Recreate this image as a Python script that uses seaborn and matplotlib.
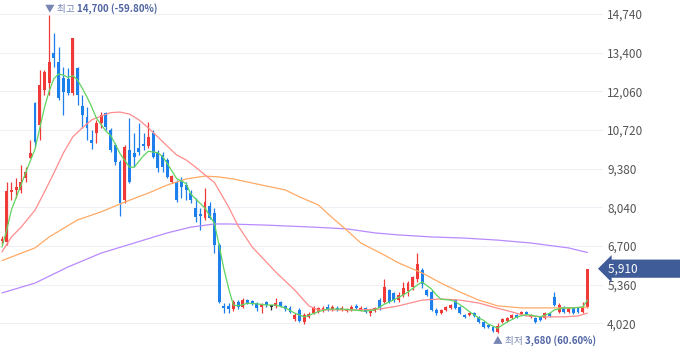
import numpy as np
import pandas as pd
import seaborn as sns
import matplotlib.pyplot as plt

# daily candles (KRW)
opens = [6870, 6840, 8570, 8640, 8640, 9050, 9750, 11650, 10890, 12100,
         12350, 13390, 13080, 12520, 12490, 12000, 12870, 11550, 11170, 10370,
         10610, 10960, 11310, 10720, 10200, 9610, 8290, 10030, 9920, 10090,
         10230, 10160, 10610, 9920, 9850, 9680, 8920, 8920, 8980, 8810,
         8530, 8010, 7810, 7670, 8080, 7840, 6730, 4620, 4620, 4510,
         4760, 4580, 4820, 4790, 4720, 4580, 4760, 4580, 4620, 4760,
         4620, 4550, 4170, 4480, 4060, 4240, 4370, 4410, 4440, 4580,
         4480, 4550, 4480, 4440, 4480, 4620, 4480, 4550, 4370, 4440,
         4820, 4760, 5170, 5070, 4820, 5000, 5140, 5280, 5550, 5860,
         5170, 5100, 4480, 4370, 4480, 4550, 4820, 4580, 4300, 4300,
         4370, 4240, 4060, 3960, 3890, 3720, 4060, 4100, 4200, 4300,
         4340, 4410, 4240, 4200, 4240, 4200, 4370, 4930, 4410, 4580,
         4410, 4550, 4550, 4410, 4580]
highs = [7040, 8920, 8920, 9050, 9500, 9440, 10370, 11690, 12800, 12800,
         14700, 14080, 13600, 12900, 12870, 13910, 12900, 11930, 11520, 10720,
         11070, 11340, 11340, 10790, 10270, 9680, 10200, 11130, 10610, 10960,
         10610, 11000, 10720, 10030, 9960, 9750, 9160, 8980, 9090, 8920,
         8640, 8360, 8010, 8710, 8220, 8010, 6800, 4720, 4720, 4820,
         4820, 4890, 4860, 4820, 4760, 4720, 4790, 4620, 4890, 4790,
         4650, 4620, 4370, 4550, 4370, 4410, 4620, 4580, 4620, 4690,
         4650, 4620, 4620, 4550, 4650, 4690, 4620, 4580, 4480, 4580,
         4890, 5550, 5210, 5100, 5100, 5450, 5480, 5660, 6450, 5930,
         5210, 5170, 4550, 4510, 4620, 4690, 4860, 4620, 4340, 4410,
         4410, 4270, 4100, 3990, 3920, 4030, 4200, 4240, 4340, 4340,
         4440, 4440, 4340, 4240, 4270, 4410, 4410, 5100, 4720, 4620,
         4580, 4580, 4580, 4760, 5910]
lows = [6770, 6730, 8290, 8360, 8530, 8920, 9750, 10130, 10370, 11930,
        11930, 12900, 11760, 11240, 11930, 11930, 11590, 10790, 10370, 10060,
        10270, 10790, 10720, 9960, 9500, 7740, 8190, 8880, 9440, 9850,
        10030, 10090, 9750, 9260, 9260, 9050, 8880, 8220, 8360, 8290,
        8190, 7530, 7250, 7600, 7630, 6450, 4720, 4370, 4370, 4440,
        4510, 4550, 4690, 4650, 4440, 4370, 4580, 4480, 4550, 4580,
        4440, 4370, 4100, 4060, 3990, 4200, 4340, 4370, 4410, 4440,
        4440, 4440, 4440, 4410, 4440, 4510, 4440, 4370, 4270, 4410,
        4480, 4720, 4720, 4760, 4760, 4930, 4960, 5170, 5450, 5240,
        4960, 4440, 4300, 4340, 4440, 4510, 4510, 4340, 4200, 4270,
        4240, 4030, 3850, 3850, 3720, 3680, 4030, 4060, 4170, 4200,
        4300, 4300, 4200, 4030, 4100, 4170, 4240, 4620, 4370, 4370,
        4370, 4340, 4370, 4370, 4550]
closes = [6940, 8600, 8640, 8740, 8920, 9260, 9920, 10300, 12280, 12730,
          13080, 13210, 11830, 12040, 12000, 13910, 11930, 11240, 10790, 10270,
          10960, 11240, 10820, 10030, 9610, 8190, 10130, 8920, 9780, 9960,
          10160, 10480, 9780, 9400, 9440, 9090, 9120, 8290, 8740, 8640,
          8290, 7700, 7740, 8220, 7670, 6730, 4760, 4550, 4510, 4760,
          4580, 4820, 4720, 4720, 4550, 4650, 4650, 4580, 4720, 4620,
          4510, 4410, 4300, 4100, 4300, 4340, 4550, 4550, 4550, 4480,
          4580, 4480, 4550, 4510, 4580, 4550, 4550, 4410, 4440, 4550,
          4550, 5280, 4760, 4820, 5000, 5240, 5410, 5620, 6070, 5380,
          5000, 4480, 4370, 4480, 4580, 4650, 4550, 4370, 4240, 4370,
          4270, 4060, 3890, 3890, 3740, 3920, 4170, 4200, 4300, 4240,
          4410, 4340, 4300, 4060, 4130, 4370, 4270, 4650, 4650, 4410,
          4550, 4370, 4410, 4550, 5910]

# moving averages (candle index, value)
ma5_idx = [0, 1, 2, 4, 5, 7, 8, 9, 10, 11, 12, 13, 14, 15, 16, 17, 18, 19, 20, 22,
           23, 24, 25, 27, 28, 30, 31, 33, 34, 35, 37, 38, 39, 40, 41, 43, 45, 46, 47, 48,
           49, 50, 52, 54, 56, 58, 60, 62, 64, 65, 67, 69, 72, 74, 77, 79, 81, 83, 85, 86,
           88, 89, 91, 92, 93, 95, 96, 98, 99, 101, 102, 103, 105, 107, 109, 111, 112, 114,
           116, 117, 119, 121, 123, 124]
ma5_val = [6660, 7250, 7950, 8800, 9230, 10060, 10780, 11500, 12070, 12500,
           12660, 12620, 12540, 12600, 12450, 12170, 11860, 11520, 11130, 10680,
           10530, 10230, 9900, 9430, 9430, 9830, 9980, 9930, 9800, 9560,
           9030, 8950, 8860, 8500, 8330, 8010, 7480, 6710, 5900, 5230,
           4650, 4620, 4710, 4690, 4650, 4650, 4550, 4370, 4240, 4290,
           4420, 4510, 4510, 4480, 4440, 4480, 4680, 4830, 5000, 5100,
           5350, 5450, 5200, 5000, 4850, 4820, 4770, 4550, 4420, 4200,
           4120, 3990, 3850, 4060, 4230, 4320, 4300, 4240, 4360, 4480,
           4550, 4550, 4580, 4820]
ma20_idx = [0, 2, 4, 7, 9, 11, 13, 15, 17, 19, 21, 23, 25, 27, 29, 31, 33, 35, 37, 39,
            41, 43, 45, 48, 50, 53, 56, 58, 62, 65, 67, 72, 76, 80, 84, 89, 93, 97, 101, 104,
            108, 111, 115, 119, 122, 124]
ma20_val = [6490, 7010, 7340, 7940, 8570, 9230, 9920, 10480, 10790, 11070,
            11200, 11320, 11340, 11270, 11070, 10790, 10480, 10160, 9850, 9680,
            9430, 9160, 8900, 8050, 7400, 6660, 6140, 5790, 5170, 4620,
            4480, 4480, 4480, 4510, 4620, 4820, 4860, 4820, 4720, 4580,
            4410, 4270, 4240, 4240, 4270, 4370]
ma60_idx = [0, 7, 10, 16, 21, 26, 31, 35, 39, 43, 46, 49, 55, 60, 63, 67, 70, 73, 76, 81,
            84, 89, 93, 97, 101, 105, 110, 114, 120, 124]
ma60_val = [6190, 6630, 7010, 7600, 7880, 8220, 8530, 8810, 9020, 9120,
            9090, 9020, 8810, 8640, 8400, 8120, 7670, 7250, 6800, 6380,
            6110, 5760, 5410, 5100, 4820, 4620, 4550, 4550, 4550, 4580]
ma120_idx = [0, 7, 14, 21, 28, 35, 40, 45, 48, 56, 66, 73, 79, 84, 91, 98, 105, 112, 120, 124]
ma120_val = [5070, 5410, 5970, 6450, 6800, 7150, 7350, 7460, 7460, 7420,
             7350, 7290, 7150, 7080, 7010, 6970, 6900, 6800, 6630, 6470]

y_ticks = [4020, 5360, 6700, 8040, 9380, 10720, 12060, 13400, 14740]
high_text = ('▼ 최고 ', '14,700 (-59.80%)')
low_text = ('▲ 최저 ', '3,680 (60.60%)')
last_price = 5910

RED = '#f03a3a'
BLUE = '#1c7fec'

sns.set_style('white')
plt.rcParams['font.family'] = ['Noto Sans CJK KR', 'DejaVu Sans']

df = pd.DataFrame({'open': opens, 'high': highs, 'low': lows, 'close': closes})
df['idx'] = np.arange(len(df))
df['color'] = np.where(df['close'] > df['open'], RED,
                       np.where(df['close'] < df['open'], BLUE, '#333333'))

fig = plt.figure(figsize=(6.8, 3.58), dpi=100)
ax = fig.add_axes([0, 0, 603 / 680, 1])

for t in y_ticks:
    ax.axhline(t, color='#eef0f6', lw=0.8, zorder=0)

ax.vlines(df['idx'], df['low'], df['high'], colors=df['color'], lw=0.9, zorder=2)
body_lo = df[['open', 'close']].min(axis=1)
body_h = (df['close'] - df['open']).abs().clip(lower=55)
ax.bar(df['idx'], body_h, bottom=body_lo, width=0.62, color=df['color'], lw=0, zorder=2)

ma_sets = [(ma120_idx, ma120_val, '#b98aff'), (ma60_idx, ma60_val, '#ffaa66'),
           (ma20_idx, ma20_val, '#ff8c8c'), (ma5_idx, ma5_val, '#5fd45f')]
for xi, yv, c in ma_sets:
    sns.lineplot(x=xi, y=yv, color=c, lw=0.9, ax=ax, zorder=3)

ax.set_xlim(-0.42, 127.3)
ax.set_ylim(2813, 15225)
ax.set_yticks(y_ticks)
ax.set_yticklabels([f'{v:,}' for v in y_ticks])
ax.yaxis.tick_right()
ax.tick_params(axis='y', length=0, pad=3, labelsize=8.5, labelcolor='#555555')
ax.set_xticks([])
for s in ax.spines.values():
    s.set_visible(False)

# high / low markers
ih = int(np.argmax(highs))
il = int(np.argmin(lows))
t1 = ax.annotate(high_text[0], xy=(ih, highs[ih]), xytext=(-4, 1), textcoords='offset pixels',
                 ha='left', va='bottom', fontsize=7, color='#7684b4', annotation_clip=False)
ax.annotate(high_text[1], xy=(1, 0), xycoords=t1, ha='left', va='bottom',
            fontsize=7, color='#4f65a3', fontweight='bold')
t2 = ax.annotate(low_text[0], xy=(il, lows[il]), xytext=(-5, -3), textcoords='offset pixels',
                 ha='left', va='top', fontsize=7, color='#7684b4', annotation_clip=False)
ax.annotate(low_text[1], xy=(1, 0), xycoords=t2, ha='left', va='bottom',
            fontsize=7, color='#4f65a3', fontweight='bold')

# current price tag
ax.text(1.008, last_price, f'{last_price:,}' + ' ' * 16, transform=ax.get_yaxis_transform(),
        ha='left', va='center', fontsize=8.5, color='white', clip_on=False,
        bbox=dict(boxstyle='larrow,pad=0.22', fc='#3f5b98', ec='none'))

fig.savefig('out.png', dpi=100)
